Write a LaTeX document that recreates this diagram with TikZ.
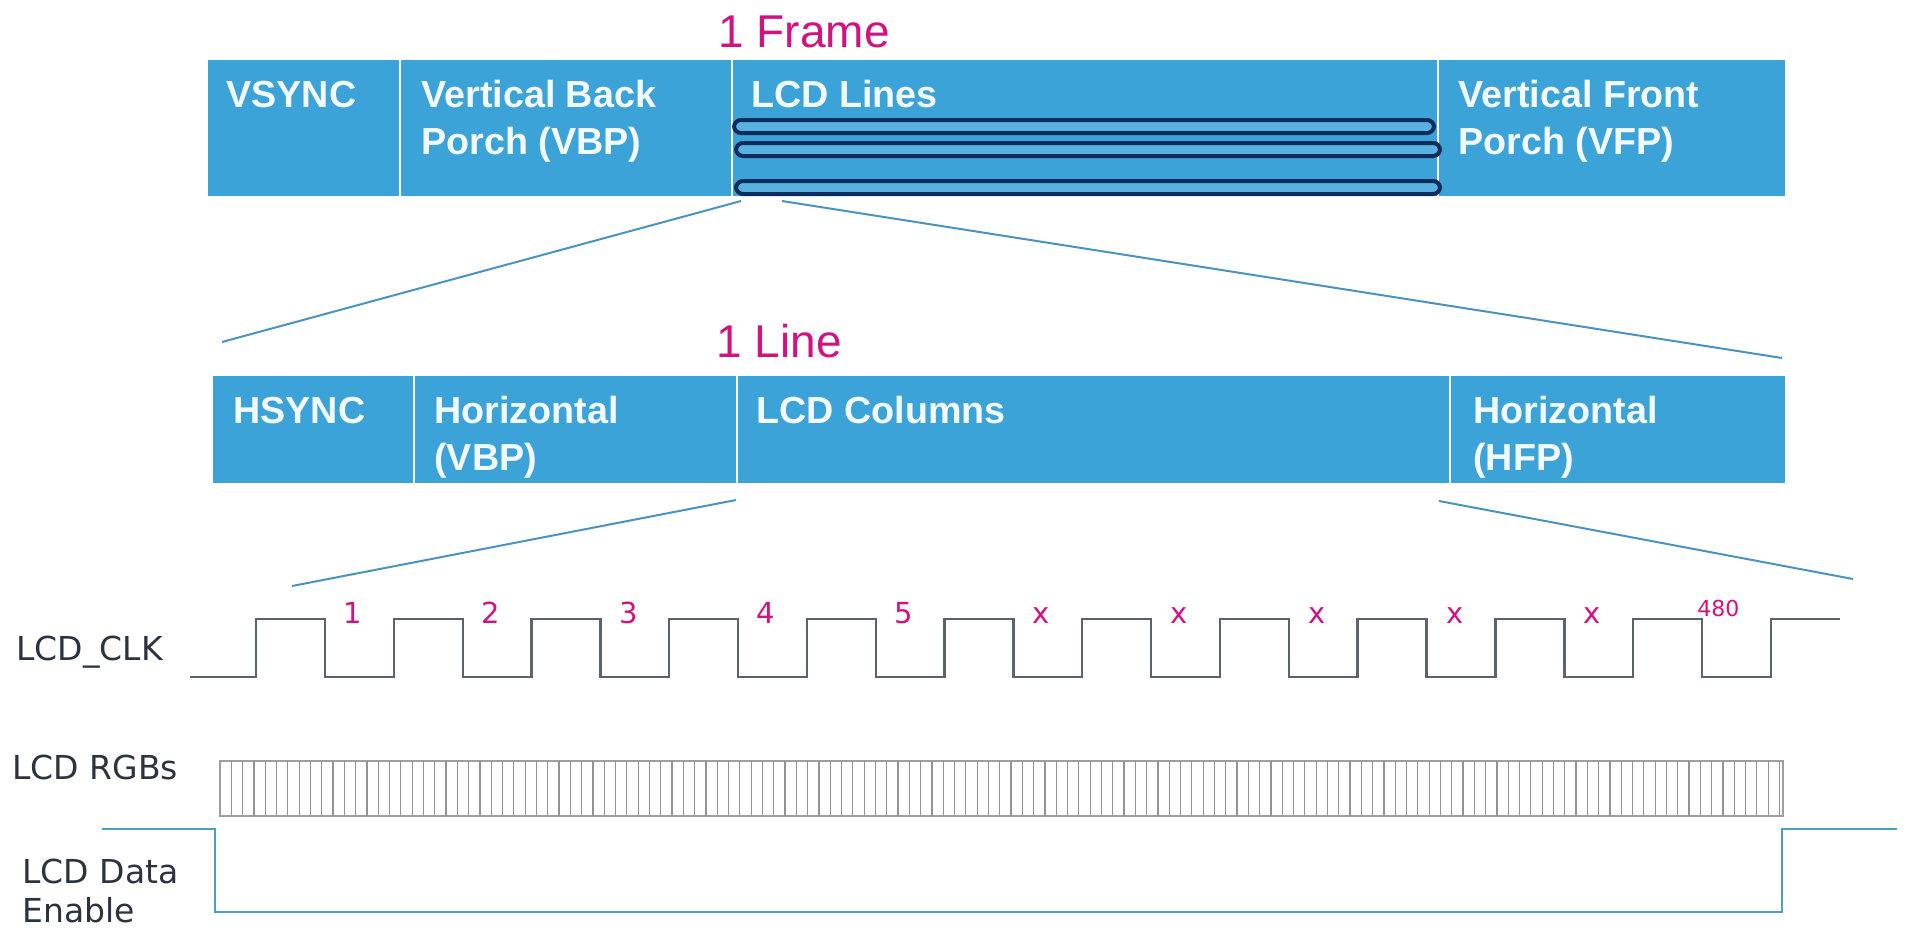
\documentclass[tikz,border=0pt]{standalone}
\usepackage{fontspec}
\setmainfont{Liberation Sans}
\newfontfamily\dvs{DejaVu Sans}
\definecolor{barblue}{HTML}{3BA3D8}
\definecolor{navy}{HTML}{0B2C5C}
\definecolor{mag}{HTML}{D1127F}
\definecolor{zline}{HTML}{4A93C0}
\definecolor{clkcol}{HTML}{5A6470}
\definecolor{lblcol}{HTML}{2B3340}
\definecolor{decol}{HTML}{4A9FC5}
\definecolor{txtwhite}{HTML}{F2F9FF}
\begin{document}
\begin{tikzpicture}[x=0.5pt,y=-0.5pt,
  cell/.style={fill=barblue, draw=none, anchor=north west, inner sep=0pt},
  topcell/.style={cell, minimum height=68pt},
  seccell/.style={cell, minimum height=53.5pt},
  celltext/.style={anchor=base west, inner sep=0pt, text=txtwhite, align=left,
    font=\fontsize{18.85}{23.5}\selectfont\bfseries},
  divider/.style={draw=white, line width=1.3pt},
  lcdline/.style={draw=navy, line width=2pt, fill=barblue!85!white, rounded corners=3.5pt},
  title/.style={anchor=base west, inner sep=0pt, text=mag, font=\fontsize{23}{28}\selectfont},
  zoomline/.style={draw=zline, line width=1pt},
  siglabel/.style={anchor=base west, inner sep=0pt, text=lblcol, align=left,
    font=\dvs\fontsize{16.5}{19.5}\selectfont},
  clkline/.style={draw=clkcol, line width=1.2pt},
  clknum/.style={anchor=base, inner sep=0pt, text=mag, font=\dvs\fontsize{14.5}{16}\selectfont},
  rgbline/.style={draw=gray!85, line width=0.6pt},
  deline/.style={draw=decol, line width=1.1pt}
]
\useasboundingbox (0,0) rectangle (1910,927);

% ---- Frame bar ----
\node[title] (frametitle) at (718,47) {1 Frame};
\node[topcell, minimum width=95.5pt] (vsync) at (208,60) {};
\node[topcell, minimum width=166pt] (vbp) at (399,60) {};
\node[topcell, minimum width=353pt] (lines) at (731,60) {};
\node[topcell, minimum width=174pt] (vfp) at (1437,60) {};
\draw[divider] (vsync.north east) -- (vsync.south east);
\draw[divider] (vbp.north east) -- (vbp.south east);
\draw[divider] (lines.north east) -- (lines.south east);
\node[celltext] (tvsync) at (226,107) {VSYNC};
\node[celltext] (tvbp) at (421,154) {Vertical Back\\Porch (VBP)};
\node[celltext] (tlines) at (751,107) {LCD Lines};
\node[celltext] (tvfp) at (1458,154) {Vertical Front\\Porch (VFP)};
\draw[lcdline] (734,120) rectangle (1434,133);
\draw[lcdline] (736,143) rectangle (1440,156);
\draw[lcdline] (736,181) rectangle (1440,194);

% ---- zoom lines frame -> line ----
\coordinate (f1) at (741,201);
\coordinate (f2) at (782,201);
\coordinate (l1) at (222,342);
\coordinate (l2) at (1782,358);
\draw[zoomline] (f1) -- (l1);
\draw[zoomline] (f2) -- (l2);

% ---- Line bar ----
\node[title] (linetitle) at (716,357) {1 Line};
\node[seccell, minimum width=100pt] (hsync) at (213,376) {};
\node[seccell, minimum width=161.5pt] (hbp) at (413,376) {};
\node[seccell, minimum width=356.5pt] (cols) at (736,376) {};
\node[seccell, minimum width=168pt] (hfp) at (1449,376) {};
\draw[divider] (hsync.north east) -- (hsync.south east);
\draw[divider] (hbp.north east) -- (hbp.south east);
\draw[divider] (cols.north east) -- (cols.south east);
\node[celltext] (thsync) at (233,423) {HSYNC};
\node[celltext] (thbp) at (434,470) {Horizontal\\(VBP)};
\node[celltext] (tcols) at (756,423) {LCD Columns};
\node[celltext] (thfp) at (1473,470) {Horizontal\\(HFP)};

% ---- zoom lines line -> clock ----
\coordinate (c1) at (736,500);
\coordinate (c2) at (1439,501);
\coordinate (k1) at (292,586);
\coordinate (k2) at (1853,579);
\draw[zoomline] (c1) -- (k1);
\draw[zoomline] (c2) -- (k2);

% ---- LCD_CLK ----
\node[siglabel] (clklabel) at (16,660) {LCD\_CLK};
\draw[clkline] (190,677)
  foreach \k in {0,...,10} {
    -- ({256+137.7*\k},677) -- ({256+137.7*\k},619)
    -- ({325+137.7*\k},619) -- ({325+137.7*\k},677)
  } -- (1771,677) -- (1771,619) -- (1840,619);
\foreach \lab [count=\k from 0] in {1,2,3,4,5,x,x,x,x,x}
  \node[clknum] (n\k) at ({353+137.7*\k},623) {\lab};
\node[anchor=base west, inner sep=0pt, text=mag, font=\dvs\fontsize{11}{13}\selectfont] (n480) at (1697,616) {480};

% ---- LCD RGBs ----
\node[siglabel] (rgblabel) at (12,779) {LCD RGBs};
\draw[rgbline, draw=gray!75, line width=0.8pt] (220,761) rectangle (1783,816);
\foreach \i in {1,...,138}
  \draw[rgbline] ({220+11.3*\i},761) -- ({220+11.3*\i},816);

% ---- LCD Data Enable ----
\node[siglabel] (delabel) at (22,922) {LCD Data\\Enable};
\coordinate (d0) at (102,829);
\coordinate (d1) at (215,829);
\coordinate (d2) at (215,912);
\coordinate (d3) at (1782,912);
\coordinate (d4) at (1782,829);
\coordinate (d5) at (1897,829);
\draw[deline] (d0) -- (d1) -- (d2) -- (d3) -- (d4) -- (d5);
\end{tikzpicture}
\end{document}
